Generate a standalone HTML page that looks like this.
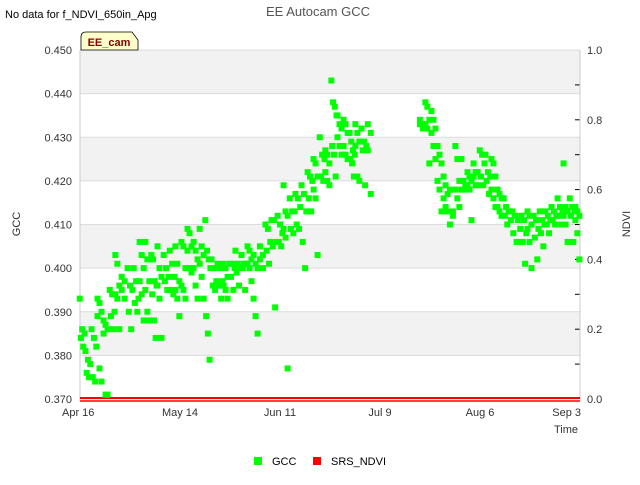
<!DOCTYPE html>
<html><head><meta charset="utf-8"><style>
body{margin:0;background:#fff;width:640px;height:480px;overflow:hidden;font-family:"Liberation Sans",sans-serif}
</style></head><body>
<svg id="chart" width="640" height="480" xmlns="http://www.w3.org/2000/svg" font-family="Liberation Sans, sans-serif">
<text x="5" y="18" font-size="11" fill="#000">No data for f_NDVI_650in_Apg</text>
<text x="318" y="16" font-size="13" fill="#555" text-anchor="middle">EE Autocam GCC</text>
<g id="plot"></g>
<text x="20" y="224" font-size="11" fill="#333" text-anchor="middle" transform="rotate(-90 20 224)">GCC</text>
<text x="630" y="224" font-size="11" fill="#333" text-anchor="middle" transform="rotate(-90 630 224)">NDVI</text>
<text x="578" y="433" font-size="11" fill="#333" text-anchor="end">Time</text>
<g>
<path d="M81,50 L81,37 Q81,32 86,32 L132,32 L138,40 L138,50 Z" fill="#ffffcc" stroke="#000" stroke-width="0.8"/>
<text x="109" y="46" font-size="11" font-weight="bold" fill="#8b0000" text-anchor="middle">EE_cam</text>
</g>
<g>
<rect x="254" y="457" width="8" height="8" fill="#00ff00"/>
<text x="272" y="465" font-size="11" fill="#000">GCC</text>
<rect x="313" y="457" width="8" height="8" fill="#ff0000"/>
<text x="331" y="465" font-size="11" fill="#000">SRS_NDVI</text>
</g>
</svg>
<script>
const xTickLabels=["Apr 16","May 14","Jun 11","Jul 9","Aug 6","Sep 3"];
const xTickDays=[0,28,56,84,112,140];
const yTicks=[0.370,0.380,0.390,0.400,0.410,0.420,0.430,0.440,0.450];
const y2Labels=[0.0,0.2,0.4,0.6,0.8,1.0];
const ndviValues=[0.0,0.0];
const ndviDays=[0,140];
const groupDays=[0.6,2.2,3.9,5.6,7.3,9.0,10.6,12.3,14.0,15.7,17.4,19.0,20.7,22.4,24.1,25.8,27.4,29.1,30.8,32.5,34.2,35.8,37.5,39.2,40.9,42.6,44.2,45.9,47.6,49.3,51.0,52.6,54.3,56.0,57.7,59.4,61.0,62.7,64.4,66.1,67.8,69.4,71.1,72.8,74.5,76.2,77.8,79.5,81.2,
95.8,97.4,99.1,100.8,102.5,104.2,105.8,107.5,109.2,110.9,112.6,114.2,115.9,117.6,119.3,121.0,122.6,124.3,126.0,127.7,129.4,131.0,132.7,134.4,136.1,137.8,139.4];
const gccGroups=[
[.393,.386,.385,.384,.382],[.381,.379,.378,.376,.375],[.386,.384,.382,.375,.374],[.393,.392,.390,.389,.377,.374],[.388,.387,.386,.385,.371,.371],
[.395,.394,.390,.389,.386],[.403,.401,.396,.394,.393,.386],[.398,.397,.395,.393],[.400,.396,.395,.390,.386],[.400,.397,.393,.392,.390],
[.406,.403,.400,.397,.394,.388],[.406,.402,.397,.395,.390,.388],[.403,.402,.397,.396,.394,.388,.384],[.405,.400,.398,.396,.393,.384],[.403,.400,.398,.397,.395],
[.404,.401,.398,.395,.394],[.405,.401,.397,.395,.393,.389],[.406,.405,.400,.396,.395,.393],[.409,.408,.405,.404,.400,.399],[.406,.404,.402,.400,.396,.393],
[.409,.405,.403,.401,.398,.393],[.411,.404,.402,.400,.389,.385,.379],[.402,.400,.397,.396,.395],[.401,.400,.397,.396,.393],[.401,.400,.398,.396,.395,.393],
[.401,.401,.400,.398,.395],[.404,.401,.400,.399,.396],[.403,.401,.401,.400,.395],[.405,.404,.402,.401,.400,.397],[.403,.401,.400,.393,.389,.385],
[.405,.403,.402,.400],[.410,.409,.406,.404,.401],[.411,.411,.406,.405,.391],[.412,.410,.408,.406,.405],[.419,.413,.412,.409,.407,.377],
[.416,.413,.413,.409,.408],[.417,.416,.414,.410,.409],[.419,.417,.413,.406,.400],[.422,.421,.420,.416,.413],[.425,.424,.421,.418,.416,.403],
[.430,.426,.425,.421,.420],[.427,.426,.424,.422,.420,.419],[.443,.438,.437,.435,.428,.426,.421],[.435,.433,.432,.430,.428,.426],[.434,.433,.431,.428,.426,.425],
[.431,.429,.427,.426,.425,.424,.421],[.433,.431,.429,.428,.421,.420],[.432,.429,.428,.427,.419],[.433,.431,.427,.417],
[.434,.433,.433,.432],[.438,.437,.434,.433,.432,.424],[.436,.434,.432,.431,.428,.425],[.428,.426,.424,.420,.418,.413],[.421,.419,.417,.416,.414,.413],
[.418,.412,.410,.413],[.428,.425,.420,.418,.416,.414],[.425,.420,.419,.418,.418,.419],[.422,.421,.420,.419,.418,.411],[.424,.422,.422,.421,.419,.419],
[.427,.426,.424,.421,.419],[.426,.422,.421,.420,.417],[.425,.424,.421,.418,.416,.414],[.418,.417,.416,.414,.413,.412],[.416,.414,.413,.412,.410],
[.413,.413,.412,.411,.408],[.412,.411,.409,.406,.406],[.412,.411,.408,.406,.401],[.413,.412,.410,.409,.406,.400],[.412,.411,.409,.407,.402],
[.413,.411,.410,.408,.405],[.413,.412,.411,.410,.408],[.414,.413,.412,.411,.410],[.416,.414,.413,.412,.410],[.424,.414,.413,.412,.410,.406],
[.416,.414,.413,.412,.406],[.414,.413,.412,.411,.408,.402]];

const X0=80,X1=580,Y0=399,Y1=50;
const xS=d=>X0+(d-0)/(140-0)*(X1-X0);
const yS=v=>Y0-(v-0.370)/(0.450-0.370)*(Y0-Y1);
const y2S=v=>Y0-v*(Y0-Y1);
const NS="http://www.w3.org/2000/svg";
const plot=document.getElementById('plot');
function mk(t,a){const e=document.createElementNS(NS,t);for(const k in a)e.setAttribute(k,a[k]);plot.appendChild(e);return e;}
for(let i=0;i<yTicks.length-1;i++){
  if(i%2===1){const b=mk('rect',{x:X0,y:yS(yTicks[i+1]),width:X1-X0,height:yS(yTicks[i])-yS(yTicks[i+1]),fill:'#f2f2f2'});
  
  }
}
yTicks.forEach(v=>{
  const l=mk('line',{x1:X0,x2:X1,y1:yS(v),y2:yS(v),stroke:'#dcdcdc','stroke-width':1});
  
  
  const t=mk('text',{x:X0-8,y:yS(v)+4,'font-size':11,fill:'#333','text-anchor':'end'});t.textContent=v.toFixed(3);
  
  
});
y2Labels.forEach(v=>{
  const t=mk('text',{x:587,y:y2S(v)+4,'font-size':11,fill:'#333'});t.textContent=v.toFixed(1);
  
  
});
for(let i=1;i<10;i++){const tk=mk('line',{x1:X1-5,x2:X1,y1:y2S(i/10),y2:y2S(i/10),stroke:'#000','stroke-width':1});
  
  }
mk('line',{x1:X0,x2:X0,y1:Y1,y2:Y0+2,stroke:'#ccc'});
mk('line',{x1:X1,x2:X1,y1:Y1,y2:Y0+2,stroke:'#ccc'});
xTickDays.forEach((d,i)=>{
  const t=mk('text',{x:xS(d),y:416,'font-size':11,fill:'#333','text-anchor':i===0?'start':(i===xTickDays.length-1?'end':'middle')});
  t.textContent=xTickLabels[i];
  if(i===0)t.setAttribute('x',xS(d)-18);
  if(i===xTickDays.length-1)t.setAttribute('x',xS(d)+1);
  
  
});
const nd=mk('polyline',{points:ndviDays.map((d,i)=>xS(d)+','+(y2S(ndviValues[i])-1)).join(' '),stroke:'#ff0000','stroke-width':2,fill:'none'});


const nd2=mk('polyline',{points:ndviDays.map((d,i)=>xS(d)+','+(y2S(ndviValues[i])+2)).join(' '),stroke:'#ff0000','stroke-width':1.5,fill:'none'});


gccGroups.forEach((g,gi)=>{
  g.forEach((v,j)=>{
    const d=groupDays[gi]-0.84+((j*2)%g.length+0.5)/g.length*1.68;
    const p=mk('rect',{x:xS(d)-3,y:yS(v)-3,width:6,height:6,fill:'#00ff00'});
    
    
  });
});
</script>
</body></html>
